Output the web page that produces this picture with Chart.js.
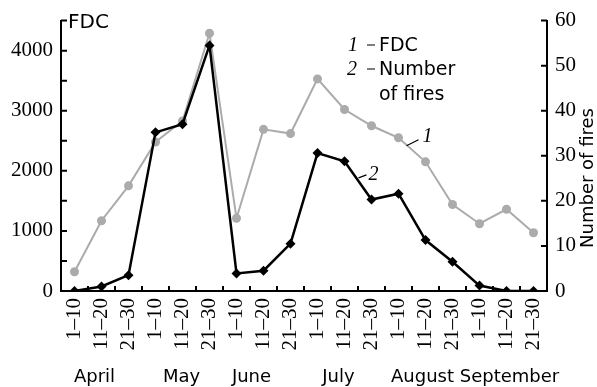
<!DOCTYPE html>
<html>
<head>
<meta charset="utf-8">
<script src="https://cdn.jsdelivr.net/npm/chart.js@4"></script>
<style>
  html, body { margin: 0; padding: 0; background: #fff; }
  #wrap { width: 597px; height: 387px; }
</style>
</head>
<body>
<div id="wrap"><canvas id="fdc-chart"></canvas></div>
<script>
'use strict';
// ten-day periods, April..September
const decades = ['1–10', '11–20', '21–30'];
const months = ['April', 'May', 'June', 'July', 'August', 'September'];
const periods = months.flatMap(() => decades);

// 1 - fire danger criterion (left axis)
const fdc = [320, 1170, 1750, 2480, 2830, 4290, 1210, 2690, 2620, 3530, 3020, 2750, 2550, 2150, 1440, 1120, 1360, 970];
// 2 - number of fires (right axis)
const fires = [0, 1, 3.5, 35.2, 37, 54.5, 3.9, 4.5, 10.5, 30.6, 28.8, 20.3, 21.6, 11.3, 6.5, 1.2, 0, 0];

const leftMax = 4500, leftStep = 500, leftLabelStep = 1000;
const rightMax = 60, rightStep = 10;

const serif = '"Liberation Serif", serif';
const sans = '"DejaVu Sans", sans-serif';

// inward ticks, month names, legend and curve numbers
const extras = {
  id: 'extras',
  afterDraw(chart) {
    const {ctx, chartArea: a, scales: {x, y, y1}} = chart;
    ctx.save();
    ctx.strokeStyle = '#000';
    ctx.fillStyle = '#000';
    ctx.lineWidth = 2;

    ctx.beginPath();
    y.ticks.forEach(t => {
      const py = y.getPixelForValue(t.value);
      if (t.value > 0) { ctx.moveTo(a.left, py); ctx.lineTo(a.left + 6, py); }
    });
    y1.ticks.forEach(t => {
      const py = y1.getPixelForValue(t.value);
      if (t.value > 0) { ctx.moveTo(a.right, py); ctx.lineTo(a.right - 6, py); }
    });
    for (let i = 1; i < periods.length; i++) {
      const px = (x.getPixelForValue(i - 1) + x.getPixelForValue(i)) / 2;
      ctx.moveTo(px, a.bottom); ctx.lineTo(px, a.bottom - 5);
    }
    ctx.stroke();

    // month names under each group of three decades
    const shift = [-7, -1, -12, -6, -3, 3];
    ctx.font = '18px ' + sans;
    ctx.textAlign = 'center';
    ctx.textBaseline = 'alphabetic';
    months.forEach((m, i) => {
      const cx = x.getPixelForValue(i * 3 + 1);
      ctx.fillText(m, cx + shift[i], 382);
    });

    // axis captions
    ctx.font = '20px ' + sans;
    ctx.textAlign = 'left';
    ctx.fillText('FDC', a.left + 7, 28);
    ctx.save();
    ctx.translate(588, a.bottom - 113);
    ctx.rotate(-Math.PI / 2);
    ctx.textAlign = 'center';
    ctx.textBaseline = 'middle';
    ctx.font = '18px ' + sans;
    ctx.fillText('Number of fires', 0, 0);
    ctx.restore();

    // legend
    ctx.lineWidth = 1.2;
    ctx.font = 'italic 20px ' + serif;
    ctx.fillText('1', 348, 51);
    ctx.fillText('2', 347, 75);
    ctx.beginPath();
    ctx.moveTo(367, 45); ctx.lineTo(375, 45);
    ctx.moveTo(367, 69); ctx.lineTo(375, 69);
    ctx.stroke();
    ctx.font = '19px ' + sans;
    ctx.fillText('FDC', 379, 51);
    ctx.fillText('Number', 379, 75);
    ctx.fillText('of fires', 379, 100);

    // curve numbers with leader lines
    ctx.font = 'italic 20px ' + serif;
    const p1x = x.getPixelForValue(13), p1y = y.getPixelForValue(2600);
    ctx.fillText('1', p1x - 3, p1y + 7);
    const p2x = x.getPixelForValue(11), p2y = y1.getPixelForValue(26.2);
    ctx.fillText('2', p2x - 3, p2y + 7);
    ctx.beginPath();
    ctx.moveTo(p1x - 19, p1y + 11); ctx.lineTo(p1x - 7, p1y + 5);
    ctx.moveTo(p2x - 13, p2y + 5); ctx.lineTo(p2x - 5, p2y + 2);
    ctx.stroke();
    ctx.restore();
  }
};

const tickFont = {family: serif, size: 21};

new Chart(document.getElementById('fdc-chart'), {
  type: 'line',
  data: {
    labels: periods,
    datasets: [
      {
        label: 'Number of fires',
        data: fires,
        yAxisID: 'y1',
        borderColor: '#000',
        backgroundColor: '#000',
        borderWidth: 2.5,
        pointStyle: 'rectRot',
        pointRadius: 5,
        pointBorderWidth: 0,
        tension: 0
      },
      {
        label: 'FDC',
        data: fdc,
        yAxisID: 'y',
        borderColor: '#ababab',
        backgroundColor: '#ababab',
        borderWidth: 2,
        pointStyle: 'circle',
        pointRadius: 4.5,
        pointBorderWidth: 0,
        tension: 0
      }
    ]
  },
  options: {
    responsive: true,
    maintainAspectRatio: false,
    animation: false,
    layout: {padding: {top: 20, left: 0, right: 0, bottom: 0}},
    plugins: {
      legend: {display: false},
      tooltip: {enabled: false}
    },
    scales: {
      x: {
        offset: true,
        grid: {display: false, drawTicks: false},
        border: {display: true, color: '#000', width: 2},
        ticks: {
          autoSkip: false,
          maxRotation: 90,
          minRotation: 90,
          padding: 7,
          color: '#000',
          font: tickFont
        },
        afterFit(s) { s.height = 96; }
      },
      y: {
        position: 'left',
        min: 0,
        max: leftMax,
        grid: {display: false, drawTicks: false},
        border: {display: true, color: '#000', width: 2},
        ticks: {
          stepSize: leftStep,
          padding: 8,
          color: '#000',
          font: tickFont,
          callback: v => (v % leftLabelStep === 0 ? String(v) : '')
        },
        afterFit(s) { s.width = 61; }
      },
      y1: {
        position: 'right',
        min: 0,
        max: rightMax,
        grid: {display: false, drawTicks: false},
        border: {display: true, color: '#000', width: 2},
        ticks: {
          stepSize: rightStep,
          padding: 8,
          color: '#000',
          font: tickFont
        },
        afterFit(s) { s.width = 50; }
      }
    }
  },
  plugins: [extras]
});
</script>
</body>
</html>
